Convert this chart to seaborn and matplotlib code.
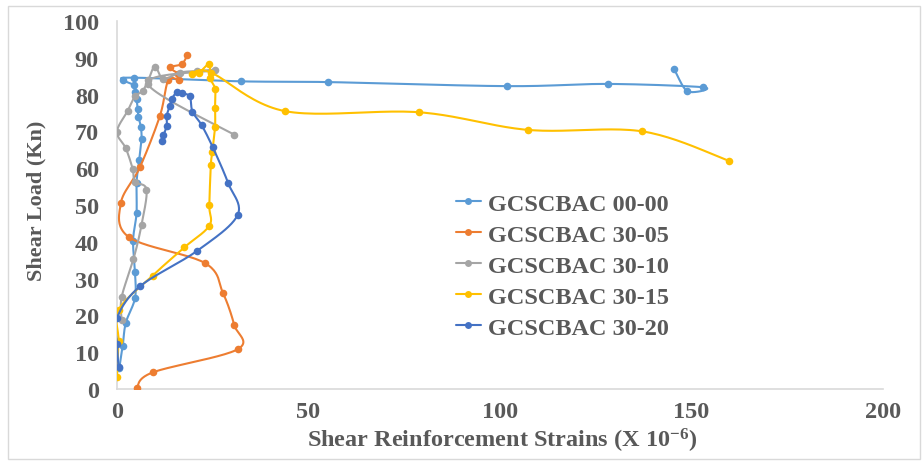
import numpy as np
import pandas as pd
import matplotlib
matplotlib.use("Agg")
import matplotlib.pyplot as plt
from matplotlib.lines import Line2D
from matplotlib.patches import Rectangle
import seaborn as sns

# ---------------- data (strain x 10^-6, load kN) ----------------
series_names = ["GCSCBAC 00-00", "GCSCBAC 30-05", "GCSCBAC 30-10",
                "GCSCBAC 30-15", "GCSCBAC 30-20"]
series_colors = ["#5B9BD5", "#ED7D31", "#A5A5A5", "#FFC000", "#4472C4"]

s00_x = [0.6, 1.5, 2.3, 4.7, 4.7, 4.2, 5.1, 5.1, 5.8, 6.4, 6.2, 5.6, 5.4, 5.1,
         4.8, 4.5, 1.5, 4.5, 32.5, 55.2, 101.7, 128.1, 153.1, 148.9, 145.5]
s00_y = [5.7, 11.8, 18.0, 24.7, 31.8, 40.3, 47.8, 56.0, 62.3, 68.0, 71.3, 74.0,
         76.2, 78.8, 80.8, 82.5, 84.0, 84.6, 83.6, 83.4, 82.3, 82.9, 82.0, 80.9, 86.9]

s05_x = [5.1, 9.3, 31.5, 30.6, 27.7, 23.0, 3.2, 1.0, 6.0, 11.2, 13.4, 16.3,
         16.0, 13.8, 16.9, 18.4]
s05_y = [0.2, 4.5, 10.8, 17.4, 26.0, 34.2, 41.2, 50.5, 60.3, 74.2, 83.9, 83.9,
         85.6, 87.4, 88.3, 90.8]

s10_x = [1.2, 1.2, 4.3, 6.4, 7.7, 4.7, 4.1, 2.3, 0.0, 2.8, 4.7, 6.7, 8.2, 9.9,
         12.1, 16.5, 21.0, 25.6, 8.0, 30.6]
s10_y = [18.8, 24.9, 35.3, 44.6, 54.2, 56.3, 59.8, 65.4, 69.9, 75.6, 79.5, 81.0,
         84.0, 87.6, 84.3, 86.0, 86.4, 86.6, 83.0, 69.1]

s15_x = [0.0, 0.4, 0.5, 9.3, 17.6, 24.1, 24.1, 24.5, 24.9, 25.6, 25.6, 25.6,
         24.3, 24.1, 21.5, 19.5, 24.5, 43.9, 78.9, 107.4, 137.2, 159.8]
s15_y = [3.2, 13.1, 21.6, 30.8, 38.5, 44.4, 49.9, 60.9, 64.5, 71.1, 76.3, 81.5,
         84.5, 88.3, 86.0, 85.5, 86.0, 75.5, 75.2, 70.4, 70.0, 62.0]

s20_x = [0.4, 0.0, 0.0, 6.0, 21.0, 31.5, 29.0, 25.0, 22.1, 19.7, 19.0, 16.9,
         15.6, 14.3, 13.8, 13.0, 13.0, 12.1, 11.7]
s20_y = [5.9, 12.2, 19.3, 27.9, 37.6, 47.3, 56.0, 65.7, 71.7, 75.4, 79.5, 80.3,
         80.6, 78.8, 77.0, 74.3, 71.6, 68.9, 67.5]

all_x = [s00_x, s05_x, s10_x, s15_x, s20_x]
all_y = [s00_y, s05_y, s10_y, s15_y, s20_y]

x_ticks = [0, 50, 100, 150, 200]
y_ticks = [0, 10, 20, 30, 40, 50, 60, 70, 80, 90, 100]


def smooth(xs, ys, n=24):
    """Excel-like smoothed line (uniform Catmull-Rom through the points)."""
    p = np.column_stack([xs, ys]).astype(float)
    if len(p) < 3:
        return p[:, 0], p[:, 1]
    pad = np.vstack([p[0], p, p[-1]])
    out = []
    t = np.linspace(0, 1, n, endpoint=False)[:, None]
    for i in range(1, len(pad) - 2):
        p0, p1, p2, p3 = pad[i - 1], pad[i], pad[i + 1], pad[i + 2]
        b1 = p1 + (p2 - p0) / 6.0
        b2 = p2 - (p3 - p1) / 6.0
        seg = ((1 - t) ** 3) * p1 + 3 * ((1 - t) ** 2) * t * b1 \
            + 3 * (1 - t) * t ** 2 * b2 + t ** 3 * p2
        out.append(seg)
    out.append(p[-1][None, :])
    c = np.vstack(out)
    return c[:, 0], c[:, 1]


# ---------------- style ----------------
sns.set_style("white")
plt.rcParams["font.family"] = ["Liberation Serif", "DejaVu Serif"]
plt.rcParams["font.weight"] = "bold"
plt.rcParams["mathtext.default"] = "regular"
text_color = "#595959"

fig = plt.figure(figsize=(9.24, 4.64), dpi=100)
ax = fig.add_axes([117 / 924, 1 - 390 / 464, 766 / 924, 368 / 464])

# chart-area border
fig.patches.append(Rectangle((8 / 924, 4 / 464), 912 / 924, 453 / 464,
                             transform=fig.transFigure, fill=False,
                             edgecolor="#D9D9D9", linewidth=1.0))

for i, (name, col) in enumerate(zip(series_names, series_colors)):
    cx, cy = smooth(all_x[i], all_y[i])
    sns.lineplot(x=cx, y=cy, sort=False, estimator=None, color=col,
                 linewidth=1.5, ax=ax, zorder=2 + i)
    sns.scatterplot(x=all_x[i], y=all_y[i], color=col, s=30,
                    edgecolor=col, linewidth=0, ax=ax, zorder=2.5 + i)

ax.set_xlim(0, 200)
ax.set_ylim(0, 100)
ax.set_xticks(x_ticks)
ax.set_yticks(y_ticks)
ax.tick_params(axis="both", length=0, labelsize=17.5, labelcolor=text_color)
ax.tick_params(axis="y", pad=13)
ax.tick_params(axis="x", pad=9)
for lab in ax.get_xticklabels() + ax.get_yticklabels():
    lab.set_fontweight("bold")

for side in ["top", "right"]:
    ax.spines[side].set_visible(False)
for side in ["left", "bottom"]:
    ax.spines[side].set_color("#D9D9D9")
    ax.spines[side].set_linewidth(1.2)

ax.set_xlabel("Shear Reinforcement Strains (X 10$^{-6}$)", fontsize=17.5,
              fontweight="bold", color=text_color)
ax.set_ylabel("Shear Load (Kn)", fontsize=16, fontweight="bold",
              color=text_color)
ax.xaxis.set_label_coords(0.503, -0.100)
ax.yaxis.set_label_coords(-0.092, 0.515)

handles = [Line2D([0], [0], color=c, lw=1.5, marker="o", markersize=5,
                  markeredgewidth=0) for c in series_colors]
leg = ax.legend(handles, series_names, loc="upper left",
                bbox_to_anchor=(0.427, 0.567), frameon=False, borderpad=0,
                handlelength=1.0, handletextpad=0.3, labelspacing=0.37,
                prop={"family": "Liberation Serif", "weight": "bold",
                      "size": 17.5})
for t in leg.get_texts():
    t.set_color(text_color)

fig.savefig("out.png", dpi=100)
